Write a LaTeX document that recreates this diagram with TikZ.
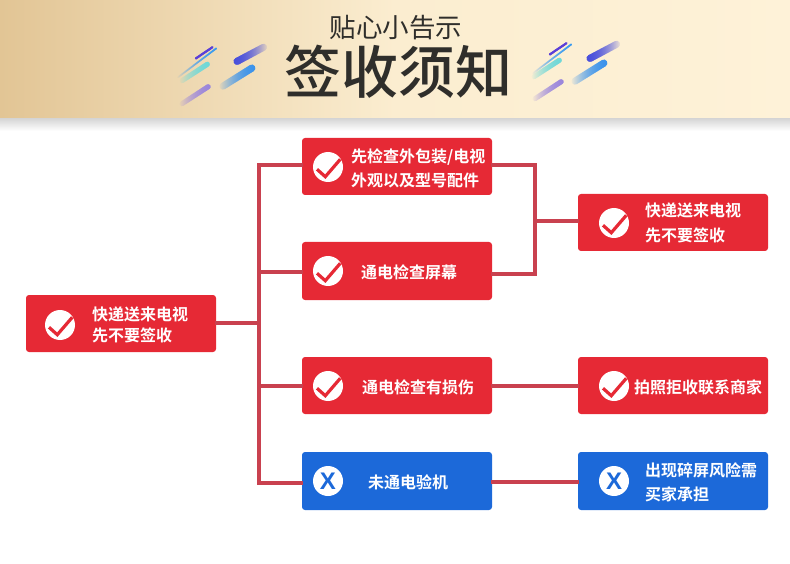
\documentclass[tikz,border=0pt]{standalone}
\usepackage{fontspec}
\setmainfont{Noto Sans CJK SC}[BoldFont={Noto Sans CJK SC Bold}]
\newfontfamily\titlefont{Noto Sans CJK SC Medium}
\newfontfamily\crossfont{Liberation Sans Bold}
\usetikzlibrary{positioning, calc, fadings}
\definecolor{boxred}{HTML}{E62935}
\definecolor{boxblue}{HTML}{1C69D9}
\definecolor{linkred}{HTML}{C9414F}
\definecolor{inktitle}{HTML}{2F2E2B}
\definecolor{headerL}{HTML}{E2C595}
\definecolor{headerM}{HTML}{FBEDD0}
\definecolor{headerR}{HTML}{FEF2D8}
\definecolor{streakA}{HTML}{5B3FD8}
\definecolor{streakB}{HTML}{3C9CF0}
\definecolor{streakC}{HTML}{6FD8D8}
\definecolor{streakD}{HTML}{4A50DC}
\definecolor{streakE}{HTML}{3B93EC}
\definecolor{streakF}{HTML}{9B86DC}
\tikzset{
    box/.style={rounded corners=3pt, minimum width=190pt, inner sep=0pt},
    redbox/.style={box, fill=boxred},
    bluebox/.style={box, fill=boxblue},
    label/.style={text=white, font=\bfseries\fontsize{16}{16}\selectfont, inner sep=0pt, anchor=west},
    link/.style={linkred, line width=3.2pt, line cap=rect},
    dot/.style={circle, fill=white, minimum size=30pt, inner sep=0pt},
}
\newcommand{\streak}[6]{
    \begin{scope}[shift={(#1)}, rotate=#2]
        \fill[#5, rounded corners=#4*0.49pt, #6] (0, -#4/2) rectangle (#3, #4/2);
        \fill[#5, rounded corners=#4*0.49pt, #6] (0, -#4/2) rectangle (#3, #4/2);
    \end{scope}
}
\newcommand{\okdot}[2]{
    \node[dot] (#1) at (#2) {};
    \draw[boxred, line width=3.2pt, line join=miter] ($(#1)+(-11,2.3)$) -- ($(#1)+(-2.7,9.7)$) -- ($(#1)+(12.3,-7.7)$);
}
\newcommand{\nodot}[2]{
    \node[dot, text=boxblue, font=\crossfont\fontsize{24}{24}\selectfont] (#1) at (#2) {X};
}
\newcommand{\streaks}[6]{
    \streak{#1}{34}{22}{2}{streakA}{}
    \streak{#2}{37}{50}{1.6}{streakB}{path fading=west}
    \streak{#3}{33}{35}{5}{streakC}{path fading=west}
    \streak{#4}{28}{37}{7}{streakD}{path fading=east}
    \streak{#5}{32}{41}{7}{streakE}{path fading=west}
    \streak{#6}{33}{36}{5}{streakF}{path fading=west}
}

\begin{document}
\begin{tikzpicture}[x=1pt, y=-1pt]
    \useasboundingbox (0, 0) rectangle (790, 564);

    % header band
    \fill[top color=black!17, bottom color=white] (0, 118) rectangle (790, 131);
    \fill[left color=headerL, right color=headerR, middle color=headerM] (0, 0) rectangle (790, 118);
    \node[inner sep=0pt, text=inktitle, font=\fontsize{26.5}{26.5}\selectfont] (sub) at (396, 28) {贴心小告示};
    \node[inner sep=0pt, text=inktitle, font=\titlefont\fontsize{57}{57}\selectfont] (title) at (398, 72) {签收须知};
    \streaks{195,59}{177,78}{180,82}{234,63}{220,88}{180,105}
    \streaks{549,55}{532,74}{532,78}{587,60}{572,83}{533,100}

    % boxes
    \node[redbox, minimum height=57pt] (root) at (121, 323.5) {};
    \node[redbox, minimum height=57pt] (outer) at (397, 166.5) {};
    \node[redbox, minimum height=58pt] (screen) at (397, 271) {};
    \node[redbox, minimum height=57pt] (damage) at (397, 385.5) {};
    \node[bluebox, minimum height=58pt] (nopower) at (397, 481) {};
    \node[redbox, minimum height=57pt] (refuse) at (673, 222.5) {};
    \node[redbox, minimum height=57pt] (photo) at (673, 385.5) {};
    \node[bluebox, minimum height=58pt] (risk) at (673, 481) {};

    % texts
    \node[label, align=left] (rootT) at (92, 325) {快递送来电视\\[5pt]先不要签收};
    \node[label, align=left] (outerT) at (351, 168.5) {先检查外包装/电视\\[6pt]外观以及型号配件};
    \node[label] (screenT) at (361, 272) {通电检查屏幕};
    \node[label] (damageT) at (362, 387) {通电检查有损伤};
    \node[label] (nopowerT) at (368, 482) {未通电验机};
    \node[label, align=left] (refuseT) at (645, 223) {快递送来电视\\[9pt]先不要签收};
    \node[label] (photoT) at (634, 387) {拍照拒收联系商家};
    \node[label, align=left] (riskT) at (645, 482) {出现碎屏风险需\\[8pt]买家承担};

    % icons
    \okdot{rootI}{60, 325}
    \okdot{outerI}{328, 167}
    \okdot{screenI}{328, 271}
    \okdot{damageI}{328, 386}
    \nodot{nopowerI}{328, 481}
    \okdot{refuseI}{614, 223}
    \okdot{photoI}{614, 386}
    \nodot{riskI}{614, 481}

    % connectors
    \coordinate (trunkA) at (259, 165);
    \coordinate (trunkB) at (259, 272);
    \coordinate (trunkC) at (259, 386);
    \coordinate (trunkD) at (259, 483);
    \coordinate (trunkR) at (259, 323);
    \coordinate (joinA) at (535, 165);
    \coordinate (joinB) at (535, 274);
    \coordinate (joinE) at (535, 221);
    \coordinate (laneC) at (535, 386);
    \coordinate (laneD) at (535, 482);

    \draw[link] (trunkA) -- (trunkD);
    \draw[link] (trunkR -| root.east) -- (trunkR);
    \draw[link] (trunkA) -- (trunkA -| outer.west);
    \draw[link] (trunkB) -- (trunkB -| screen.west);
    \draw[link] (trunkC) -- (trunkC -| damage.west);
    \draw[link] (trunkD) -- (trunkD -| nopower.west);
    \draw[link] (joinA -| outer.east) -- (joinA) -- (joinB) -- (joinB -| screen.east);
    \draw[link] (joinE) -- (joinE -| refuse.west);
    \draw[link] (laneC -| damage.east) -- (laneC -| photo.west);
    \draw[link] (laneD -| nopower.east) -- (laneD -| risk.west);
\end{tikzpicture}
\end{document}
